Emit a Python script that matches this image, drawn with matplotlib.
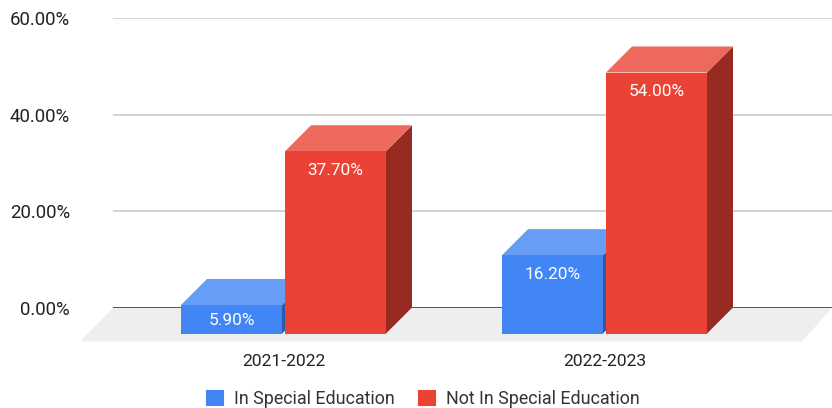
import matplotlib
matplotlib.use("Agg")
import matplotlib.pyplot as plt
from matplotlib.patches import Polygon, Patch

plt.rcParams["font.family"] = ["Roboto", "DejaVu Sans"]

years = ["2021-2022", "2022-2023"]
in_special = [5.9, 16.2]
not_special = [37.7, 54.0]
series_names = ["In Special Education", "Not In Special Education"]
y_ticks = [0, 20, 40, 60]

BLUE = ("#4285F4", "#689DF6", "#2A5CAB")      # front, top, side
RED = ("#EA4335", "#EE695D", "#972B22")

W, H = 832, 408
L, R, T, B = 113, 832, 18, 308                # back wall in pixels
UX = 321.0                                    # pixels per category
UY = (B - T) / 60.0                           # pixels per percent
BAR_W = 101 / UX
GAP = 1.5 / UX
DX, DY = 26 / UX, 26 / UY                     # depth of the 3d look
BASE = -25.5 / UY                             # front face baseline

fig = plt.figure(figsize=(W / 100, H / 100), dpi=100)
ax = fig.add_axes([L / W, 1 - B / H, (R - L) / W, (B - T) / H])
ax.set_xlim((L - 283.5) / UX, (R - 283.5) / UX)
ax.set_ylim(0, 60)
for sp in ax.spines.values():
    sp.set_visible(False)

ax.set_yticks(y_ticks, [f"{v:.2f}%" for v in y_ticks], fontsize=13.4, color="#222222")
ax.set_xticks(range(len(years)), years, fontsize=12.6, color="#222222")
ax.tick_params(axis="both", length=0)
ax.tick_params(axis="y", pad=31)
ax.tick_params(axis="x", pad=33)
for t in ax.get_yticklabels():
    t.set_verticalalignment("center_baseline")
ax.grid(axis="y", color="#CCCCCC", lw=1.2, zorder=0)
ax.set_axisbelow(True)
ax.axhline(0, color="#555555", lw=1.4, zorder=1)

x0, x1 = ax.get_xlim()
floor_b = -33.5 / UY
ax.add_patch(Polygon([(x0, 0), (x1, 0), (x1 - 30 / UX, floor_b), (x0 - 33 / UX, floor_b)],
                     closed=True, fc="#EEEEEE", ec="none", clip_on=False, zorder=0.5))


def box(x, val, cols, z, off):
    """One fake 3d bar: side, top, then front, with the value written on the front."""
    xl, xr = x, x + BAR_W
    top = BASE + val
    ax.add_patch(Polygon([(xr, BASE), (xr + DX, BASE + DY), (xr + DX, top + DY), (xr, top)],
                         closed=True, fc=cols[2], ec="none", clip_on=False, zorder=z))
    ax.add_patch(Polygon([(xl, top), (xr, top), (xr + DX, top + DY), (xl + DX, top + DY)],
                         closed=True, fc=cols[1], ec="none", clip_on=False, zorder=z))
    ax.bar(xl, val, BAR_W, bottom=BASE, align="edge", color=cols[0], clip_on=False, zorder=z + 0.1)
    ax.annotate(f"{val:.2f}%", (xl + BAR_W / 2, top), xytext=(0, off), textcoords="offset pixels",
                ha="center", va="center", color="white", fontsize=12.4, zorder=z + 0.2,
                annotation_clip=False)


for i in range(len(years)):
    # the small 5.90% bar has its label closer to the top edge
    box(i - BAR_W - GAP, in_special[i], BLUE, 2, -16 if in_special[i] < 10 else -19.5)
    box(i + GAP, not_special[i], RED, 3, -19.5)

handles = [Patch(fc=c[0], ec=c[0], lw=1.5, joinstyle="round") for c in (BLUE, RED)]
leg = fig.legend(handles=handles, labels=series_names,
                 loc="center", bbox_to_anchor=(423.5 / W, 1 - 399 / H), ncol=2, frameon=False,
                 fontsize=12.85, labelcolor="#333333", handlelength=0.88, handleheight=0.88,
                 handletextpad=0.66, columnspacing=1.33, borderpad=0, borderaxespad=0)

fig.savefig("out.png", dpi=100)
